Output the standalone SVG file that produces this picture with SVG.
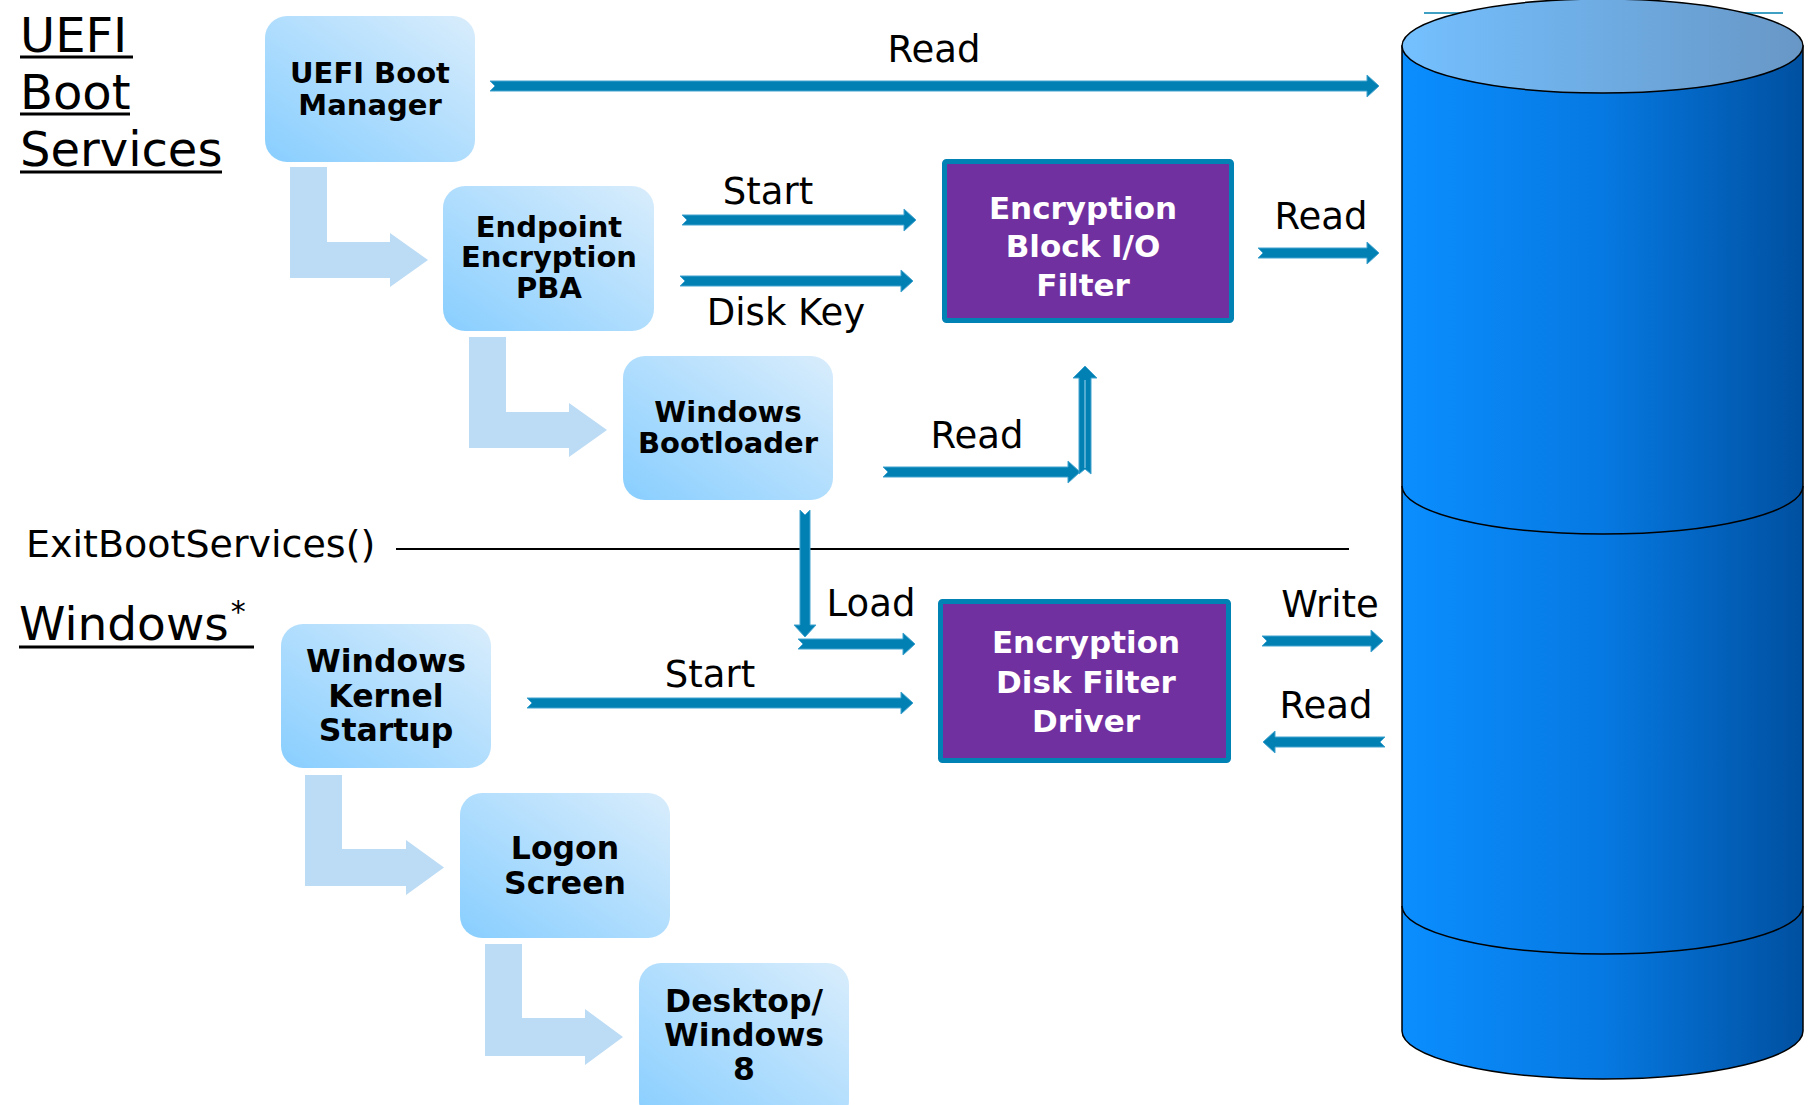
<svg xmlns="http://www.w3.org/2000/svg" width="1808" height="1105" viewBox="0 0 1808 1105">
<defs>
<linearGradient id="boxg" x1="0" y1="1" x2="1" y2="0">
<stop offset="0" stop-color="#88CEFF"/>
<stop offset="1" stop-color="#D9EDFC"/>
</linearGradient>
<linearGradient id="cylside" x1="0" y1="0" x2="1" y2="0">
<stop offset="0" stop-color="#0B8EFF"/>
<stop offset="0.5" stop-color="#0679E2"/>
<stop offset="1" stop-color="#0050A0"/>
</linearGradient>
<linearGradient id="cyltop" x1="0" y1="0" x2="1" y2="0">
<stop offset="0" stop-color="#74C0FF"/>
<stop offset="1" stop-color="#6897C6"/>
</linearGradient>
</defs>
<style>
.box{fill:url(#boxg)}
.bt{font-family:"DejaVu Sans","Verdana",sans-serif;font-weight:bold;fill:#000;text-anchor:middle}
.pbox{fill:#7030A0;stroke:#0082B4;stroke-width:5}
.pt{font-family:"DejaVu Sans","Verdana",sans-serif;font-weight:bold;fill:#fff;text-anchor:middle;font-size:31px}
.lbl{font-family:"DejaVu Sans","Verdana",sans-serif;font-size:37px;fill:#000}
.ttl{font-family:"DejaVu Sans","Verdana",sans-serif;fill:#000}
.ul{stroke:#000;stroke-width:3}
.arr{fill:#0180B3;stroke:#43A3CF;stroke-width:1}
.L{fill:#BCDBF5}
.cyl{stroke:#000;stroke-width:1.5}
</style>

<g id="titles">
<text class="ttl" x="20" y="52" font-size="48">UEFI</text>
<line class="ul" x1="20" y1="57" x2="133" y2="57"/>
<text class="ttl" x="20" y="109" font-size="48">Boot</text>
<line class="ul" x1="20" y1="114" x2="130" y2="114"/>
<text class="ttl" x="20" y="166" font-size="48">Services</text>
<line class="ul" x1="20" y1="172" x2="222" y2="172"/>
<text class="ttl" x="26" y="557" font-size="38">ExitBootServices()</text>
<line x1="396" y1="549" x2="1349" y2="549" stroke="#000" stroke-width="2"/>
<text class="ttl" x="19" y="640" font-size="47">Windows<tspan font-size="30" dy="-18" dx="2">*</tspan></text>
<line class="ul" x1="19" y1="647" x2="254" y2="647"/>
</g>

<g id="disk">
<line x1="1424" y1="13" x2="1783" y2="13" stroke="#0080B0" stroke-width="1.5"/>
<path class="cyl" d="M1402,46 L1402,1031 A200.5,48 0 0 0 1803,1031 L1803,46 Z" fill="url(#cylside)"/>
<path class="cyl" d="M1402,486 A200.5,48 0 0 0 1803,486" fill="none"/>
<path class="cyl" d="M1402,906 A200.5,48 0 0 0 1803,906" fill="none"/>
<ellipse class="cyl" cx="1602.5" cy="46" rx="200.5" ry="47" fill="url(#cyltop)"/>
</g>

<g id="flow-arrows">
<polygon class="L" points="290,167 327,167 327,242 390,242 390,233 428,260 390,287 390,278 290,278"/>
<polygon class="L" points="469,337 506,337 506,412 569,412 569,403 607,430 569,457 569,448 469,448"/>
<polygon class="L" points="305,775 342,775 342,849 406,849 406,840 444,867.5 406,895 406,886 305,886"/>
<polygon class="L" points="485,944 522,944 522,1018 585,1018 585,1009 623,1037 585,1065 585,1056 485,1056"/>
</g>

<g id="uefi-boot-manager">
<rect class="box" x="265" y="16" width="210" height="146" rx="22"/>
<text class="bt" font-size="29" x="370" y="83">UEFI Boot</text>
<text class="bt" font-size="29" x="370" y="115">Manager</text>
</g>

<g id="endpoint-pba">
<rect class="box" x="443" y="186" width="211" height="145" rx="22"/>
<text class="bt" font-size="29" x="549" y="237">Endpoint</text>
<text class="bt" font-size="29" x="549" y="267">Encryption</text>
<text class="bt" font-size="29" x="549" y="298">PBA</text>
</g>

<g id="windows-bootloader">
<rect class="box" x="623" y="356" width="210" height="144" rx="22"/>
<text class="bt" font-size="29" x="728" y="422">Windows</text>
<text class="bt" font-size="29" x="728" y="453">Bootloader</text>
</g>

<g id="windows-kernel">
<rect class="box" x="281" y="624" width="210" height="144" rx="22"/>
<text class="bt" font-size="31.5" x="386" y="672">Windows</text>
<text class="bt" font-size="31.5" x="386" y="707">Kernel</text>
<text class="bt" font-size="31.5" x="386" y="741">Startup</text>
</g>

<g id="logon-screen">
<rect class="box" x="460" y="793" width="210" height="145" rx="22"/>
<text class="bt" font-size="31.5" x="565" y="859">Logon</text>
<text class="bt" font-size="31.5" x="565" y="894">Screen</text>
</g>

<g id="desktop">
<rect class="box" x="639" y="963" width="210" height="160" rx="22"/>
<text class="bt" font-size="31.5" x="744" y="1012">Desktop/</text>
<text class="bt" font-size="31.5" x="744" y="1046">Windows</text>
<text class="bt" font-size="31.5" x="744" y="1080">8</text>
</g>

<g id="block-io-filter">
<rect class="pbox" x="944.5" y="161.5" width="287" height="159" rx="2"/>
<text class="pt" x="1083" y="219">Encryption</text>
<text class="pt" x="1083" y="257">Block I/O</text>
<text class="pt" x="1083" y="296">Filter</text>
</g>

<g id="disk-filter-driver">
<rect class="pbox" x="940.5" y="601.5" width="288" height="159" rx="2"/>
<text class="pt" x="1086" y="653">Encryption</text>
<text class="pt" x="1086" y="693">Disk Filter</text>
<text class="pt" x="1086" y="732">Driver</text>
</g>

<g id="connectors">
<polygon class="arr" points="490,81 1367,81 1367,75 1379,86 1367,97 1367,91 490,91 495,86"/>
<text class="lbl" x="934" y="62" text-anchor="middle">Read</text>
<polygon class="arr" points="682,215 904,215 904,209 916,220 904,231 904,225 682,225 687,220"/>
<text class="lbl" x="768" y="204" text-anchor="middle">Start</text>
<polygon class="arr" points="680,276 901,276 901,270 913,281 901,292 901,286 680,286 685,281"/>
<text class="lbl" x="786" y="325" text-anchor="middle">Disk Key</text>
<polygon class="arr" points="1258,248 1367,248 1367,242 1379,253 1367,264 1367,258 1258,258 1263,253"/>
<text class="lbl" x="1321" y="229" text-anchor="middle">Read</text>
<polygon class="arr" points="883,467 1068,467 1068,461 1080,472 1068,483 1068,477 883,477 888,472"/>
<polygon class="arr" points="1079,474 1079,378 1073,378 1085,366 1097,378 1091,378 1091,474 1085,469"/>
<line x1="1085" y1="380" x2="1085" y2="468" stroke="#6CB8DD" stroke-width="1.5"/>
<text class="lbl" x="977" y="448" text-anchor="middle">Read</text>
<polygon class="arr" points="800,510 800,625 794,625 805,637 816,625 810,625 810,510 805,515"/>
<polygon class="arr" points="798,639 903,639 903,633 915,644 903,655 903,649 798,649 803,644"/>
<text class="lbl" x="871" y="616" text-anchor="middle">Load</text>
<polygon class="arr" points="527,698 901,698 901,692 913,703 901,714 901,708 527,708 532,703"/>
<text class="lbl" x="710" y="687" text-anchor="middle">Start</text>
<polygon class="arr" points="1262,636 1371,636 1371,630 1383,641 1371,652 1371,646 1262,646 1267,641"/>
<text class="lbl" x="1330" y="617" text-anchor="middle">Write</text>
<polygon class="arr" points="1385,737 1275,737 1275,731 1263,742 1275,753 1275,747 1385,747 1380,742"/>
<text class="lbl" x="1326" y="718" text-anchor="middle">Read</text>
</g>
</svg>
